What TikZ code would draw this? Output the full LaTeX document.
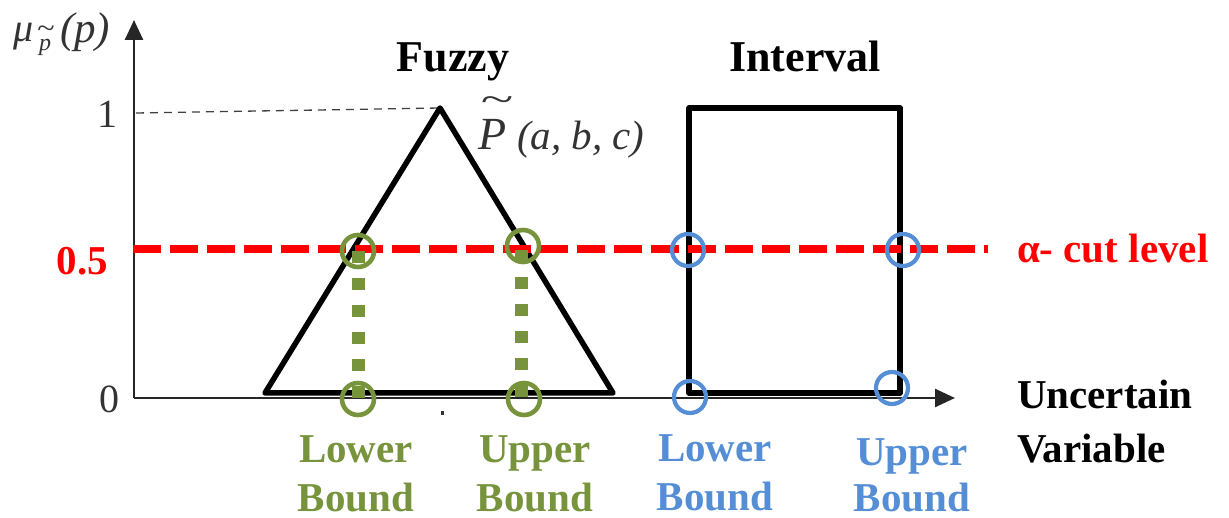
\documentclass[tikz,border=0pt]{standalone}
\usepackage{fontspec}
\setmainfont{Liberation Serif}
\usepackage{graphicx}
\usetikzlibrary{arrows.meta}
\definecolor{fzgreen}{RGB}{119,147,60}
\definecolor{ivblue}{RGB}{85,142,213}
\definecolor{cutred}{RGB}{255,0,0}
\begin{document}
\begin{tikzpicture}[x=1pt,y=-1pt,
  every node/.style={inner sep=0pt, outer sep=0pt},
  axisline/.style={line width=2.6pt, draw=black!85, -{Triangle[length=20pt,width=18pt]}},
  shapeline/.style={line width=5.5pt, line join=round, draw=black},
  cutline/.style={line width=8pt, draw=cutred, dash pattern=on 28pt off 9pt},
  projline/.style={line width=13pt, draw=fzgreen, dash pattern=on 12pt off 15pt},
  gcirc/.style={circle, draw=fzgreen, line width=4.6pt, minimum size=32pt},
  bcirc/.style={circle, draw=ivblue, line width=4.2pt, minimum size=32pt},
  boldlbl/.style={font=\fontsize{41}{49}\selectfont\bfseries, align=center},
  ticklbl/.style={font=\fontsize{40}{48}\selectfont, text=black!80},
  mathlbl/.style={font=\fontsize{40}{48}\selectfont\itshape, text=black!80},
  tildemark/.style={font=\fontsize{40}{40}\selectfont, text=black!80},
]
\useasboundingbox (0,0) rectangle (1229,518);

% axes
\coordinate (O) at (134,398);
\coordinate (ytip) at (134,20);
\coordinate (xtip) at (955,398);
\draw[axisline] (O) -- (ytip);
\draw[axisline] (O) -- (xtip);

% axis label mu_{p~}(p)
\node[mathlbl, anchor=base west] (mu) at (13,42) {μ};
\node[mathlbl, anchor=base west, font=\fontsize{24}{24}\selectfont\itshape] (psub) at (39,51) {p};
\node[tildemark] (tilsub) at (46,32) {\scalebox{0.8}[0.7]{\textasciitilde}};
\node[mathlbl, anchor=base west, font=\fontsize{43}{48}\selectfont\itshape] (pp) at (60,43) {(p)};

\node[ticklbl, anchor=base east] (one) at (117,128) {1};
\node[ticklbl, anchor=base east] (zero) at (119,413) {0};
\node[boldlbl, anchor=base east, text=cutred] (half) at (108,275) {0.5};

% fuzzy triangle
\coordinate (ta) at (265,393);
\coordinate (tb) at (440,108);
\coordinate (tc) at (613,393);
\coordinate (onep) at (136,113);
\draw[line width=1.3pt, draw=black!75, dash pattern=on 8pt off 6pt] (onep) -- (tb);
\draw[shapeline] (ta) -- (tb) -- (tc) -- cycle;
\node[mathlbl, anchor=base west, font=\fontsize{46}{48}\selectfont\itshape] (bigp) at (478,150) {P};
\node[tildemark] (bigtil) at (497,104) {\scalebox{1.5}[0.9]{\textasciitilde}};
\node[mathlbl, anchor=base west, font=\fontsize{41}{48}\selectfont\itshape] (abc) at (517,150) {(a, b, c)};

% interval rectangle
\coordinate (r1) at (689,393);
\coordinate (r2) at (900,108);
\draw[shapeline] (r1) rectangle (r2);

% tick mark
\fill[black!80] (440.5,411) rectangle (443.5,415);

% alpha cut
\coordinate (cs) at (133,249);
\coordinate (ce) at (988,249);
\draw[cutline] (cs) -- (ce);
\node[boldlbl, anchor=base west, text=cutred] (alpha) at (1017,263) {α- cut level};

% green projections
\node[gcirc] (g1) at (358,251) {};
\node[gcirc] (g2) at (523,246) {};
\node[gcirc] (g3) at (358,399) {};
\node[gcirc] (g4) at (524,399) {};
\draw[projline] (g1.center) -- (g3.center);
\draw[projline] (521,250) -- (521,398);

% blue circles
\node[bcirc] (b1) at (688,250) {};
\node[bcirc] (b2) at (903,250) {};
\node[bcirc] (b3) at (690,397) {};
\node[bcirc] (b4) at (892,388) {};

% titles
\node[boldlbl, anchor=base, font=\fontsize{44}{50}\selectfont\bfseries] (fuzzy) at (453,72) {Fuzzy};
\node[boldlbl, anchor=base, font=\fontsize{44}{50}\selectfont\bfseries] (interval) at (805,72) {Interval};

% bound labels (base = baseline of last line)
\node[boldlbl, anchor=base, text=fzgreen] (gl) at (356,511) {Lower\\Bound};
\node[boldlbl, anchor=base, text=fzgreen] (gu) at (535,511) {Upper\\Bound};
\node[boldlbl, anchor=base, text=ivblue] (bl) at (715,510) {Lower\\Bound};
\node[boldlbl, anchor=base, text=ivblue] (bu) at (912,511) {Upper\\[-3pt]Bound};

% x-axis label
\node[boldlbl, anchor=base west, align=left] (unc) at (1017,462) {Uncertain\\[5pt]Variable};
\end{tikzpicture}
\end{document}
